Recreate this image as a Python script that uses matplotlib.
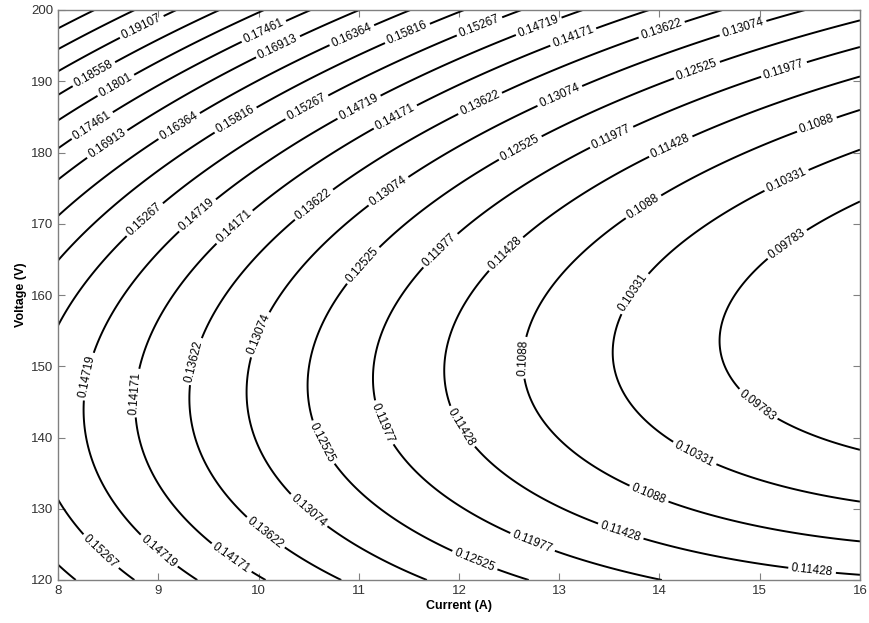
import numpy as np
import matplotlib.pyplot as plt

plt.rcParams['font.family'] = ['Liberation Sans', 'DejaVu Sans']

# leftmost point (vertex) of every contour
vertex_current = [8.0, 8.25, 8.78, 9.32, 9.87, 10.50, 11.12, 11.86, 12.64, 13.53, 14.61, 16.0]
vertex_value = [0.14997, 0.14719, 0.14171, 0.13622, 0.13074, 0.12525,
                0.11977, 0.11428, 0.1088, 0.10331, 0.09783, 0.09237]
# voltage of the vertex line at both ends, and the curvature along voltage
ridge_current = [8, 16]
ridge_voltage = [143.5, 155.7]
curvature = 1.79e-5

levels = [0.09783, 0.10331, 0.1088, 0.11428, 0.11977, 0.12525, 0.13074, 0.13622,
          0.14171, 0.14719, 0.15267, 0.15816, 0.16364, 0.16913, 0.17461, 0.1801,
          0.18558, 0.19107, 0.19656, 0.20204]
level_text = ["0.09783", "0.10331", "0.1088", "0.11428", "0.11977", "0.12525",
              "0.13074", "0.13622", "0.14171", "0.14719", "0.15267", "0.15816",
              "0.16364", "0.16913", "0.17461", "0.1801", "0.18558", "0.19107",
              "0.19656", "0.20204"]
labeled = levels[:18]

# where the inline labels sit
label_spots = [
    (8.84, 197.5), (10.07, 196.5), (10.22, 194.1), (8.37, 190.7), (8.57, 189.6),
    (8.35, 183.6), (8.51, 180.8), (9.2, 183.9), (9.77, 184.6), (10.48, 186.4),
    (8.87, 170.5), (9.39, 171.2), (9.77, 169.4), (10.53, 173.1),
    (10.93, 196.5), (11.48, 196.9), (12.21, 197.5), (12.79, 197.9), (13.14, 196.2),
    (10.99, 186.7), (11.38, 184.6), (12.21, 186.9), (13.01, 187.8),
    (11.31, 174.3), (12.62, 180.4), (13.51, 182.5),
    (11.04, 164.2), (11.81, 166.3), (12.48, 165.6),
    (14.03, 196.9), (14.83, 197.6), (14.38, 191.3), (15.25, 191.3),
    (14.12, 180.6), (15.57, 183.9), (13.83, 172.6), (15.29, 175.4),
    (15.28, 167.0), (13.77, 160.0),
    (8.32, 148.5), (8.82, 146.2), (9.39, 150.6), (10.02, 154.4), (10.6, 139.0),
    (10.48, 129.4), (10.05, 126.3), (9.73, 123.1), (8.99, 123.8), (8.42, 123.9),
    (12.64, 151.2), (11.2, 141.8), (11.98, 141.1),
    (12.15, 122.5), (12.73, 125.2), (13.61, 126.7),
    (14.98, 144.6), (14.34, 137.5), (13.88, 131.6), (15.52, 121.1),
]

cur = np.linspace(8, 16, 500)
volt = np.linspace(120, 200, 500)
II, VV = np.meshgrid(cur, volt)
base = np.polyval(np.polyfit(vertex_current, vertex_value, 3), II)
ridge = np.interp(II, ridge_current, ridge_voltage)
Z = base + curvature * (VV - ridge) ** 2

fig = plt.figure(figsize=(8.7, 6.23), dpi=100)
ax = fig.add_axes([58 / 870, 1 - 580 / 623, 802 / 870, 570 / 623])

cs = ax.contour(II, VV, Z, levels=levels, colors="black", linewidths=1.4)
ax.clabel(cs, levels=labeled, manual=label_spots, inline=True, inline_spacing=3,
          fmt=dict(zip(levels, level_text)), fontsize=8.5)

ax.set_xlim(8, 16)
ax.set_ylim(120, 200)
ax.set_xticks(range(8, 17))
ax.set_yticks(range(120, 201, 10))
ax.tick_params(direction="in", top=True, right=True, length=5, width=0.8,
               color="#808080", labelsize=9.5, labelcolor="#333333")
for s in ax.spines.values():
    s.set_color("#808080")
    s.set_linewidth(1.0)
ax.set_xlabel("Current (A)", fontsize=9, fontweight="bold", labelpad=2)
ax.set_ylabel("Voltage (V)", fontsize=9, fontweight="bold", labelpad=3)

fig.savefig("out.png", dpi=100)
